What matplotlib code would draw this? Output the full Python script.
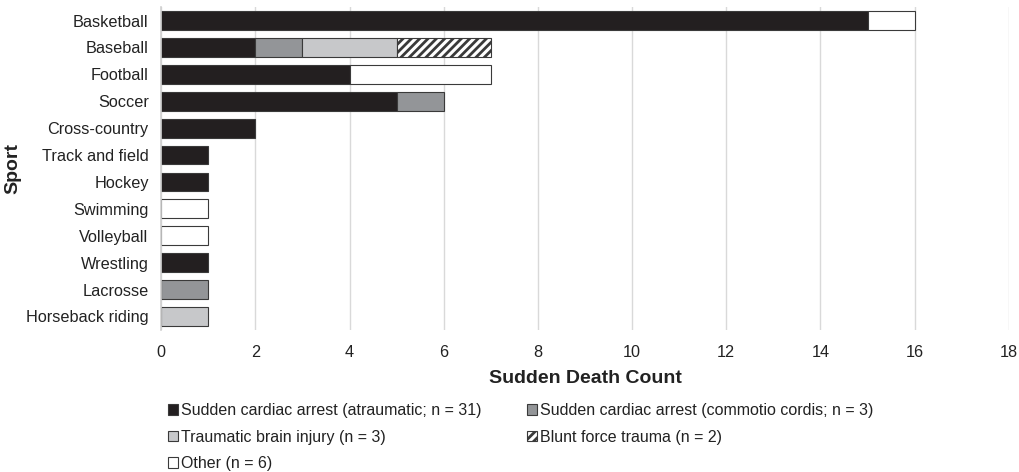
import numpy as np
import matplotlib.pyplot as plt
from matplotlib.patches import Patch

plt.rcParams['font.family'] = ['Liberation Sans', 'DejaVu Sans']
plt.rcParams['hatch.linewidth'] = 2.0

sports = ["Basketball", "Baseball", "Football", "Soccer", "Cross-country",
          "Track and field", "Hockey", "Swimming", "Volleyball", "Wrestling",
          "Lacrosse", "Horseback riding"]
sca = [15, 2, 4, 5, 2, 1, 1, 0, 0, 1, 0, 0]
commotio = [0, 1, 0, 1, 0, 0, 0, 0, 0, 0, 1, 0]
tbi = [0, 2, 0, 0, 0, 0, 0, 0, 0, 0, 0, 1]
blunt = [0, 2, 0, 0, 0, 0, 0, 0, 0, 0, 0, 0]
other = [1, 0, 3, 0, 0, 0, 0, 1, 1, 0, 0, 0]

labels = ["Sudden cardiac arrest (atraumatic; n = 31)",
          "Sudden cardiac arrest (commotio cordis; n = 3)",
          "Traumatic brain injury (n = 3)",
          "Blunt force trauma (n = 2)",
          "Other (n = 6)"]
colors = ["#231f20", "#939598", "#c7c8ca", "white", "white"]
hatches = [None, None, None, "////", None]
series = [sca, commotio, tbi, blunt, other]

fig = plt.figure(figsize=(10.2, 4.72), dpi=100)
ax = fig.add_axes([0.158, 0.301, 0.831, 0.684])

y = np.arange(len(sports))
left = np.zeros(len(sports))
for vals, c, h in zip(series, colors, hatches):
    vals = np.array(vals, dtype=float)
    m = vals > 0
    ax.barh(y[m], vals[m], left=left[m], height=0.7, color=c, hatch=h,
            edgecolor="#3a3a3a", linewidth=0.8, zorder=3)
    left += vals

ax.set_ylim(len(sports) - 0.5, -0.5)
ax.set_yticks(y)
ax.set_yticklabels(sports, fontsize=11.7, color="#222222")
ax.set_xlim(0, 18)
ax.set_xticks(range(0, 19, 2))
ax.tick_params(axis="x", labelsize=11.7, colors="#222222", length=0, pad=11)
ax.tick_params(axis="y", length=0, pad=9)
ax.grid(axis="x", color="#d9d9d9", linewidth=1, zorder=0)
for s in ["top", "right", "bottom"]:
    ax.spines[s].set_visible(False)
ax.spines["left"].set_color("#d0d0d0")
ax.spines["left"].set_linewidth(1.2)
ax.spines["left"].set_zorder(4)

ax.set_xlabel("Sudden Death Count", fontsize=14, fontweight="bold", labelpad=7,
              color="#222222")
ax.set_ylabel("Sport", fontsize=14, fontweight="bold", labelpad=3, color="#222222")

handles = [Patch(facecolor=c, edgecolor="#3a3a3a", hatch=h, linewidth=0.8, label=l)
           for c, h, l in zip(colors, hatches, labels)]
order = [0, 2, 4, 1, 3]
fig.legend([handles[i] for i in order], [labels[i] for i in order],
           ncol=2, loc="upper left", bbox_to_anchor=(0.165, 0.146),
           frameon=False, fontsize=11.5, handlelength=0.6, handleheight=0.6,
           handletextpad=0.2, columnspacing=2.85, labelspacing=0.72,
           borderaxespad=0, borderpad=0, labelcolor="#222222")

fig.savefig("out.png", dpi=100)
